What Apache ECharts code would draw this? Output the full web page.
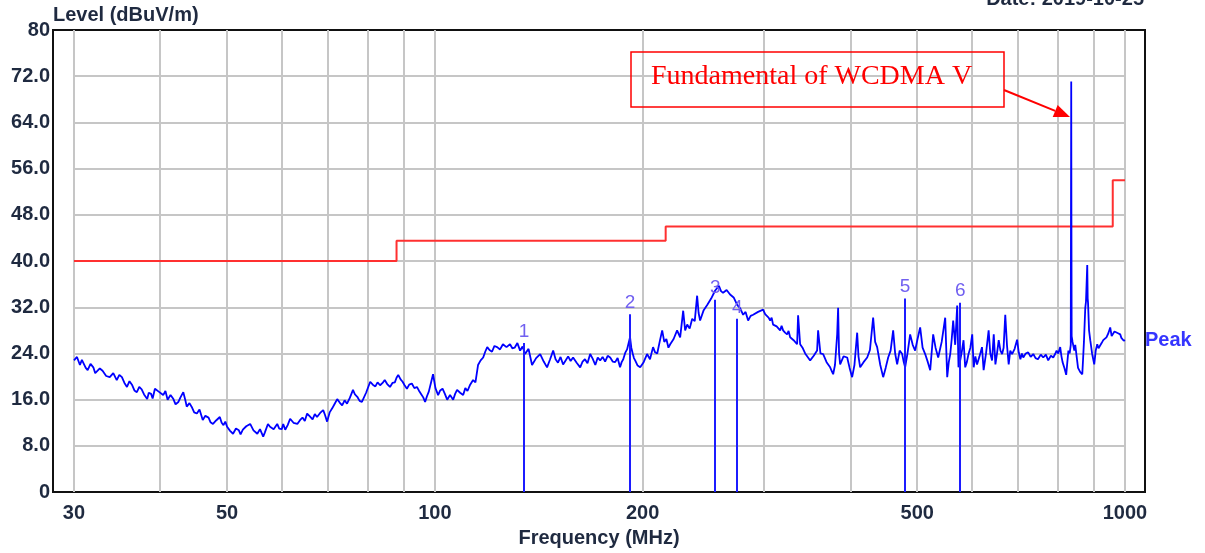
<!DOCTYPE html>
<html>
<head>
<meta charset="utf-8">
<script src="https://cdn.jsdelivr.net/npm/echarts@6/dist/echarts.min.js"></script>
<style>
html,body{margin:0;padding:0;background:#fff;}
#chart{width:1205px;height:553px;}
</style>
</head>
<body>
<div id="chart"></div>
<script>
// ---------------- data ----------------
var traceFreq = [
  30.0,30.3,30.6,30.8,31.0,31.2,31.4,31.7,32.0,32.2,
  32.4,32.7,33.0,33.4,33.8,34.2,34.6,34.9,35.2,35.5,
  35.8,36.1,36.4,36.7,37.0,37.3,37.6,37.9,38.3,38.5,
  38.8,39.0,39.3,39.8,40.4,40.7,41.0,41.4,41.8,42.1,
  42.5,42.8,43.2,43.5,43.7,44.1,44.5,44.8,45.2,45.6,
  46.1,46.5,47.0,47.3,47.7,48.2,48.8,49.1,49.4,49.7,
  50.0,50.5,51.0,51.5,52.0,52.3,52.7,53.3,54.0,54.6,
  55.3,55.8,56.4,56.7,57.0,57.3,57.7,58.4,59.1,59.5,
  60.0,60.3,60.7,61.2,61.7,62.4,63.2,63.8,64.3,64.8,
  65.3,65.9,66.5,67.0,67.5,68.2,68.9,69.3,69.8,70.4,
  71.0,71.6,72.2,72.8,73.4,74.0,74.6,75.3,76.1,76.6,
  77.2,77.8,78.4,79.5,80.6,81.3,82.0,82.6,83.3,84.0,
  84.6,85.3,86.1,86.8,87.5,88.0,88.5,89.2,89.8,90.4,
  91.1,91.8,92.6,93.4,94.2,94.8,95.5,96.2,96.8,97.4,
  98.0,98.7,99.4,100.2,101.1,101.8,102.6,103.4,104.2,105.2,
  106.3,107.0,107.7,108.8,109.9,110.7,111.5,112.5,113.6,114.5,
  115.5,116.5,117.5,118.3,119.1,120.0,121.0,122.0,123.1,124.3,
  125.5,127.0,128.5,129.5,130.5,131.7,132.9,134.0,135.1,136.7,
  138.3,140.2,142.1,143.8,145.4,146.9,148.4,149.6,150.8,152.1,
  153.4,154.7,156.0,157.3,158.6,160.5,162.4,163.7,165.0,166.4,
  167.9,169.3,170.8,172.2,173.6,175.0,176.5,178.0,179.5,181.0,
  182.5,184.0,185.5,186.5,187.5,188.7,189.9,190.9,191.8,192.6,
  193.5,194.3,195.1,196.7,198.4,200.7,203.0,205.0,207.1,208.5,
  210.0,211.7,213.5,215.0,216.5,218.0,219.3,221.8,224.4,226.7,
  229.0,230.5,232.1,234.0,236.0,238.0,239.9,241.1,242.3,245.2,
  248.1,251.4,254.8,256.4,258.0,259.8,261.6,264.7,267.8,271.0,
  274.2,277.0,279.7,282.0,284.4,286.8,289.2,294.0,299.0,301.0,
  303.0,304.5,306.1,307.6,309.1,312.8,316.5,318.0,319.6,321.7,
  323.9,325.5,327.2,331.0,334.9,336.0,338.3,341.0,344.0,346.9,
  349.8,354.0,358.0,359.2,362.0,365.3,369.5,373.9,375.8,377.7,
  380.0,382.8,384.0,385.2,386.6,391.0,395.8,399.0,402.4,405.5,
  409.2,411.0,413.3,418.0,423.1,427.0,431.6,434.5,437.4,442.0,
  446.3,450.0,453.8,457.5,461.4,464.5,467.6,471.5,475.5,478.0,
  480.2,484.0,488.3,492.5,496.5,500.5,504.9,509.0,513.4,518.0,
  522.1,524.5,527.3,531.5,536.2,542.5,548.9,552.6,555.5,558.2,
  561.0,563.7,567.5,571.3,573.8,577.1,580.5,583.5,586.8,590.0,
  593.3,597.0,600.7,603.6,607.0,610.4,615.5,620.6,624.0,629.0,
  634.5,638.0,641.8,645.4,649.0,652.5,656.2,660.0,663.7,667.0,
  670.7,674.5,678.4,682.0,686.1,692.0,697.7,701.5,705.4,709.0,
  712.2,718.0,724.0,730.0,736.4,742.0,748.0,755.0,761.3,768.0,
  774.0,781.0,787.1,792.0,796.0,800.5,805.6,809.0,812.0,817.0,
  821.9,825.0,828.0,831.5,834.5,835.8,836.3,837.0,839.5,842.0,
  844.5,847.1,851.0,855.0,861.0,867.2,869.5,872.0,874.0,875.9,
  878.0,881.7,883.0,884.0,887.0,890.6,896.0,902.5,907.0,911.6,
  915.5,920.0,925.0,930.0,935.0,940.0,946.0,951.9,956.5,961.5,
  965.5,970.0,977.0,984.2,988.0,992.0,996.0,1000.0
];
var traceLevel = [
  22.8,23.4,22.0,22.9,22.6,21.5,21.1,22.2,21.6,20.6,
  20.4,21.4,21.0,20.1,19.9,20.6,19.4,20.3,19.9,18.9,
  18.2,19.2,18.6,17.6,17.3,18.2,17.8,16.9,16.1,17.2,
  17.0,16.2,17.9,17.4,16.8,17.5,16.0,16.8,16.1,15.2,
  15.6,16.4,17.3,15.9,14.8,15.4,14.6,13.8,13.6,14.3,
  12.5,13.2,12.9,12.1,11.8,12.4,13.0,12.0,11.6,12.2,
  11.3,10.6,10.1,11.0,10.7,10.0,10.8,11.4,11.8,10.7,
  10.1,10.9,9.6,10.3,10.6,11.8,11.3,10.9,11.8,11.0,
  10.9,11.8,10.8,11.6,12.7,12.0,11.8,12.5,12.9,12.3,
  13.6,13.1,12.6,13.5,13.0,13.7,14.2,13.4,12.2,13.8,
  14.5,15.3,16.1,15.5,15.0,15.9,15.3,16.3,17.7,16.9,
  16.5,15.8,15.6,17.2,19.1,18.6,18.3,19.0,18.5,18.9,
  19.4,18.7,18.2,18.9,19.0,19.8,20.3,19.5,19.1,18.5,
  17.9,18.6,18.8,18.0,18.2,17.6,17.0,16.4,15.6,16.6,
  17.4,18.9,20.4,18.0,16.8,17.6,17.9,17.0,16.0,16.8,
  16.0,17.0,17.7,17.2,16.8,18.0,17.5,18.6,19.4,19.0,
  22.0,22.8,23.3,24.3,25.1,24.6,24.3,25.3,25.1,24.7,
  25.6,25.1,25.6,24.9,25.0,25.8,24.5,25.2,23.9,24.8,
  22.0,23.2,23.9,22.6,21.6,23.0,24.5,23.0,22.4,23.4,
  22.1,22.8,23.5,22.7,23.3,22.4,21.6,22.6,23.0,22.3,
  23.9,23.1,22.0,23.3,22.8,23.4,22.6,23.6,23.3,22.6,
  22.5,23.2,21.6,22.5,23.0,24.1,24.7,25.8,26.8,25.0,
  24.0,23.2,22.8,21.9,21.6,22.5,23.9,23.0,25.1,24.2,
  24.0,26.0,28.0,26.0,26.5,25.0,25.6,26.5,28.0,26.8,
  31.4,28.0,29.0,28.3,30.0,29.6,34.0,31.0,29.7,31.5,
  32.4,33.5,34.9,35.2,35.7,34.8,34.5,35.0,34.2,33.7,
  32.4,31.8,30.7,31.2,29.7,30.5,30.7,31.2,31.6,30.8,
  31.0,30.2,29.7,30.2,29.0,28.7,28.0,28.8,28.0,27.6,
  27.3,27.9,26.8,26.3,25.6,30.6,25.6,25.0,24.0,23.4,
  22.8,23.6,24.5,28.0,24.0,23.9,22.5,21.6,21.0,20.4,
  22.0,27.3,31.9,24.0,22.1,23.5,23.3,21.5,19.9,22.0,
  27.6,23.5,21.6,22.5,23.3,24.6,30.2,26.0,25.1,22.0,
  19.9,21.5,23.3,24.5,28.0,24.0,22.1,24.5,23.9,22.5,
  21.6,24.0,27.3,25.5,24.5,26.5,28.5,25.0,23.9,22.5,
  21.1,24.0,27.3,25.0,23.3,26.0,30.2,19.9,22.5,23.9,
  26.5,29.7,25.5,32.3,21.6,22.8,24.5,26.3,21.6,22.5,
  23.9,25.0,27.3,21.6,23.5,22.1,23.5,25.1,21.1,24.0,
  28.0,24.0,22.8,27.3,22.1,24.0,26.3,24.5,23.9,25.0,
  30.7,25.5,22.1,24.5,23.9,24.8,26.4,24.2,23.0,24.0,
  23.3,24.0,24.2,23.4,23.9,23.2,23.0,23.8,23.3,23.8,
  22.8,23.6,23.3,23.9,24.5,24.0,25.1,23.5,22.5,21.5,
  20.3,22.5,24.5,24.0,25.5,71.1,48.2,27.0,26.0,26.3,
  24.5,25.5,23.5,21.5,20.8,20.4,23.0,26.0,29.0,31.9,
  33.0,39.3,33.5,32.8,28.0,26.3,24.0,22.1,24.5,25.6,
  24.9,25.0,25.8,26.3,26.0,26.8,27.5,28.5,27.0,27.1,
  27.8,28.0,27.5,27.3,26.7,26.9,26.2,26.3
];
var limitFreq  = [30, 88, 216, 960, 1000];
var limitLevel = [40, 43.5, 46, 54];
var markerName  = ['1', '2', '3', '4', '5', '6'];
var markerFreq  = [134.7, 191.8, 254.8, 274.2, 480.2, 577.1];
var markerLevel = [25.8, 30.8, 33.3, 30.0, 33.5, 32.8];
var xGridFreq   = [30,40,50,60,70,80,90,100,200,300,400,500,600,700,800,900,1000];
var xLabelFreq  = [30, 50, 100, 200, 500, 1000];
var yTicks      = [0,8,16,24,32,40,48,56,64,72,80];

// ---------------- build ----------------
var L = Math.log10;
var traceData = traceFreq.map(function (f, i) { return [L(f), traceLevel[i]]; });
var limitData = [];
for (var i = 0; i < limitLevel.length; i++) {
  limitData.push([L(limitFreq[i]), limitLevel[i]]);
  limitData.push([L(limitFreq[i + 1]), limitLevel[i]]);
}
var gridLines = [];
xGridFreq.forEach(function (f) {
  gridLines.push([{ coord: [L(f), 0] }, { coord: [L(f), 80] }]);
});
yTicks.slice(1, -1).forEach(function (v) {
  gridLines.push([{ coord: [L(30), v] }, { coord: [L(1000), v] }]);
});
var markerLines = markerFreq.map(function (f, i) {
  return [{ coord: [L(f), 0] }, { coord: [L(f), markerLevel[i]], name: markerName[i] }];
});

var chart = echarts.init(document.getElementById('chart'), null, { renderer: 'canvas' });
var FONT = 'Liberation Sans, Arial, sans-serif';
var TXT = '#1f2a40';

// arrow geometry
var ax0 = 1004, ay0 = 90, ax1 = 1070, ay1 = 117;
var ang = Math.atan2(ay1 - ay0, ax1 - ax0);
var hl = 16, hw = 6.5;
var bx = ax1 - hl * Math.cos(ang), by = ay1 - hl * Math.sin(ang);
var head = [[ax1, ay1],
  [bx + hw * Math.sin(ang), by - hw * Math.cos(ang)],
  [bx - hw * Math.sin(ang), by + hw * Math.cos(ang)]];

chart.setOption({
  animation: false,
  backgroundColor: '#ffffff',
  grid: { left: 53, right: 60, top: 30, bottom: 57, show: true, borderColor: '#111', borderWidth: 2, backgroundColor: 'transparent' },
  xAxis: {
    type: 'value', min: 1.4467, max: 3.029,
    splitLine: { show: false }, axisLine: { show: false }, axisTick: { show: false },
    axisLabel: {
      customValues: xLabelFreq.map(L),
      formatter: function (v) { return String(Math.round(Math.pow(10, v))); },
      fontFamily: FONT, fontWeight: 'bold', fontSize: 20, color: TXT, margin: 11
    },
    name: 'Frequency (MHz)', nameLocation: 'middle', nameGap: 31,
    nameTextStyle: { fontFamily: FONT, fontWeight: 'bold', fontSize: 20, color: TXT }
  },
  yAxis: {
    type: 'value', min: 0, max: 80, interval: 8,
    splitLine: { show: false }, axisLine: { show: false }, axisTick: { show: false },
    axisLabel: {
      formatter: function (v) { return (v === 0 || v === 80) ? String(v) : v.toFixed(1); },
      fontFamily: FONT, fontWeight: 'bold', fontSize: 20, color: TXT, margin: 3
    }
  },
  series: [
    {
      type: 'line', data: [], silent: true, z: 1,
      markLine: {
        z: 1,
        silent: true, symbol: ['none', 'none'], animation: false,
        lineStyle: { color: '#c6c6c6', width: 2, type: 'solid' },
        label: { show: false }, emphasis: { disabled: true },
        data: gridLines
      }
    },
    {
      type: 'line', data: limitData, symbol: 'none', silent: true, z: 3,
      lineStyle: { color: '#ff3030', width: 2 }
    },
    {
      type: 'line', data: traceData, symbol: 'none', silent: true, z: 4,
      lineStyle: { color: '#0000ff', width: 1.8 },
      endLabel: {
        show: true, formatter: 'Peak', distance: 20,
        fontFamily: FONT, fontWeight: 'bold', fontSize: 20, color: '#3535ff'
      },
      markLine: {
        z: 5,
        silent: true, symbol: ['none', 'none'], animation: false,
        lineStyle: { color: '#1c1cff', width: 2, type: 'solid' },
        label: {
          show: true, position: 'end', distance: 2, formatter: '{b}',
          fontFamily: FONT, fontSize: 19, color: '#7160f0'
        },
        emphasis: { disabled: true },
        data: markerLines
      }
    }
  ],
  graphic: [
    { type: 'text', left: 53, top: 5, style: { text: 'Level (dBuV/m)', font: 'bold 20px ' + FONT, fill: TXT } },
    { type: 'text', right: 61, top: -11, style: { text: 'Date: 2019-10-25', font: 'bold 20px ' + FONT, fill: TXT } },
    { type: 'rect', shape: { x: 631, y: 52, width: 373, height: 55 }, style: { fill: 'none', stroke: '#ff0000', lineWidth: 1.5 }, z: 10 },
    { type: 'text', x: 651, y: 77, style: { text: 'Fundamental of WCDMA V', font: '28px Liberation Serif, Times New Roman, serif', fill: '#ff0000', verticalAlign: 'middle' }, z: 10 },
    { type: 'line', shape: { x1: ax0, y1: ay0, x2: bx, y2: by }, style: { stroke: '#ff0000', lineWidth: 2 }, z: 10 },
    { type: 'polygon', shape: { points: head }, style: { fill: '#ff0000' }, z: 10 }
  ]
});
</script>
</body>
</html>
